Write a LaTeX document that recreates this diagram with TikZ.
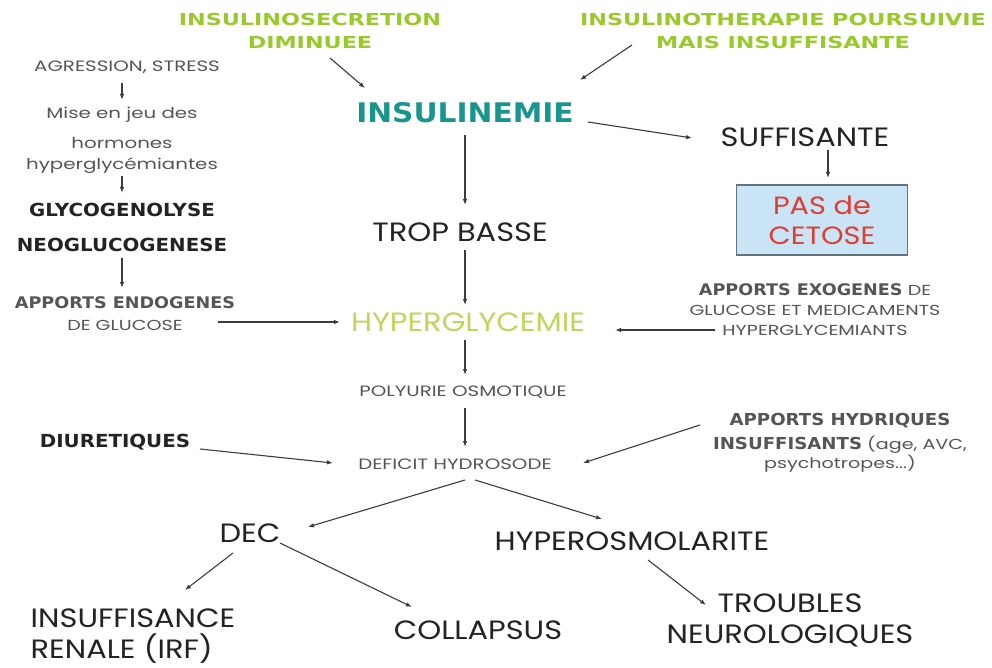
\documentclass[tikz,border=0pt]{standalone}
\usepackage{fontspec}
\setmainfont{Poppins}[FakeStretch=1.15]
\newfontfamily\popw{Poppins}[FakeStretch=1.32]
\newfontfamily\vb{DejaVu Sans}[FakeStretch=1.1]
\newfontfamily\vbw{DejaVu Sans}[FakeStretch=1.35]
\usetikzlibrary{arrows.meta,calc}
\definecolor{hgreen}{RGB}{152,202,42}
\definecolor{teal}{RGB}{25,150,140}
\definecolor{lgreen}{RGB}{190,215,90}
\definecolor{txt}{RGB}{35,35,35}
\definecolor{stxt}{RGB}{85,85,85}
\definecolor{boxf}{RGB}{200,228,245}
\definecolor{boxd}{RGB}{100,115,130}
\definecolor{rtxt}{RGB}{225,60,50}
\definecolor{arrc}{RGB}{60,60,60}
\begin{document}
\begin{tikzpicture}[x=1pt,y=-1pt,
  arr/.style={draw=arrc, line width=1.1pt, -{Latex[length=6pt,width=4.5pt]}},
  lbl/.style={inner sep=0pt, align=center, text=txt},
  big/.style={lbl, font=\fontsize{26.5}{31}\selectfont},
  small/.style={lbl, text=stxt, font=\popw\fontsize{15}{21}\selectfont},
  bld/.style={lbl, font=\vb\bfseries\fontsize{18}{22}\selectfont},
  head/.style={lbl, text=hgreen, font=\vbw\bfseries\fontsize{16.5}{23}\selectfont},
]
\useasboundingbox[fill=white] (0,0) rectangle (992,668);

% top
\node[head] (isd) at (310,31) {INSULINOSECRETION\\DIMINUEE};
\node[head] (itp) at (783,31) {INSULINOTHERAPIE POURSUIVIE\\MAIS INSUFFISANTE};
\node[lbl, text=teal, font=\vb\bfseries\fontsize{27}{31}\selectfont] (ins) at (465,113) {INSULINEMIE};
\node[big] (suf) at (805,137) {SUFFISANTE};
\node[draw=boxd, fill=boxf, line width=1.2pt, minimum width=171pt, minimum height=70pt,
      inner sep=0pt, align=center, text=rtxt, font=\fontsize{25}{30}\selectfont] (pas) at (822,220) {PAS de\\CETOSE};
\node[big] (tb) at (460,232) {TROP BASSE};
\node[big, text=lgreen] (hg) at (468,322) {HYPERGLYCEMIE};
\node[small] (po) at (463,392) {POLYURIE OSMOTIQUE};
\node[small] (dh) at (455,464) {DEFICIT HYDROSODE};

% left column
\node[small] (agr) at (127,67) {AGRESSION, STRESS};
\node[small] (mis) at (122,115) {Mise en jeu des};
\node[small] (hor) at (122,155) {hormones\\hyperglycémiantes};
\node[bld] (gly) at (122,210) {GLYCOGENOLYSE};
\node[bld] (neo) at (122,245) {NEOGLUCOGENESE};
\node[small, font=\popw\fontsize{14.5}{22}\selectfont] (aen) at (125,314) {{\vb\bfseries\fontsize{16}{22}\selectfont APPORTS ENDOGENES}\\DE GLUCOSE};
\node[small, font=\popw\fontsize{14.5}{20}\selectfont] (aex) at (815,310) {{\vb\bfseries\fontsize{16}{20}\selectfont APPORTS EXOGENES} DE\\GLUCOSE ET MEDICAMENTS\\HYPERGLYCEMIANTS};
\node[bld] (diu) at (115,442) {DIURETIQUES};
\node[small, font=\popw\fontsize{14.5}{24}\selectfont] (ahy) at (840,443) {{\vb\bfseries\fontsize{16.5}{24}\selectfont APPORTS HYDRIQUES}\\{\vb\bfseries\fontsize{16.5}{24}\selectfont INSUFFISANTS} (age, AVC,\\[-5pt]psychotropes...)};

% bottom
\node[big] (dec) at (250,533) {DEC};
\node[big] (hyo) at (632,541) {HYPEROSMOLARITE};
\node[big, align=left] (irf) at (133,636) {INSUFFISANCE\\RENALE (IRF)};
\node[big] (col) at (478,630) {COLLAPSUS};
\node[big] (tro) at (790,620) {TROUBLES\\NEUROLOGIQUES};

% connectors
\draw[arr] ($(isd)+(20,27)$) -- ($(ins)+(-100,-25)$);
\draw[arr] ($(itp)+(-151,14)$) -- ($(ins)+(115,-33)$);
\draw[arr] ($(ins)+(123,9)$) -- ($(suf)+(-113,1)$);
\draw[arr] ($(suf)+(23,13)$) -- ($(pas)+(6,-42)$);
\draw[arr] ($(ins)+(0,22)$) -- ($(tb)+(5,-27)$);
\draw[arr] ($(tb)+(5,18)$) -- ($(hg)+(-3,-17)$);
\draw[arr] ($(hg)+(-3,18)$) -- ($(po)+(2,-17)$);
\draw[arr] ($(po)+(2,16)$) -- ($(dh)+(10,-17)$);
\draw[arr] ($(diu)+(85,7)$) -- ($(dh)+(-122,-1)$);
\draw[arr] ($(ahy)+(-140,-18)$) -- ($(dh)+(128,-1)$);
\draw[arr] ($(dh)+(10,16)$) -- ($(dec)+(58,-6)$);
\draw[arr] ($(dh)+(20,16)$) -- ($(hyo)+(-30,-22)$);
\draw[arr] ($(dec)+(-17,20)$) -- ($(irf)+(52,-46)$);
\draw[arr] ($(dec)+(30,10)$) -- ($(col)+(-66,-23)$);
\draw[arr] ($(hyo)+(16,19)$) -- ($(tro)+(-84,-15)$);
\draw[arr] ($(agr)+(-5,16)$) -- ($(mis)+(0,-15)$);
\draw[arr] ($(hor)+(0,21)$) -- ($(gly)+(0,-17)$);
\draw[arr] ($(neo)+(0,13)$) -- ($(aen)+(-3,-26)$);
\draw[arr] ($(aen)+(93,8)$) -- ($(hg)+(-128,0)$);
\draw[arr] ($(aex)+(-100,20)$) -- ($(hg)+(147,8)$);
\end{tikzpicture}
\end{document}
